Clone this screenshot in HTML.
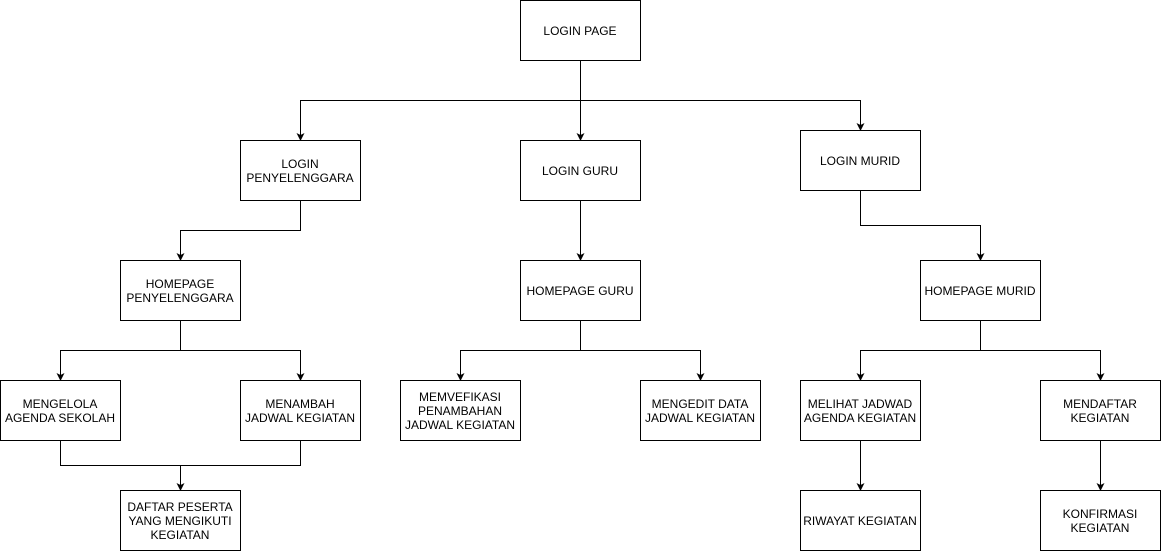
<!DOCTYPE html>
<html><head><meta charset="utf-8"><style>html,body{margin:0;padding:0;background:#fff}</style></head>
<body>
<svg width="1161" height="551" viewBox="0 0 1161 551" xmlns="http://www.w3.org/2000/svg" font-family="Liberation Sans, sans-serif" font-size="12">
<defs><marker id="a" markerWidth="8" markerHeight="8" refX="7" refY="4" orient="auto" markerUnits="userSpaceOnUse"><path d="M0,0 L8,4 L0,8 L2,4 z" fill="#000"/></marker></defs>
<g fill="none" stroke="#000" stroke-width="1">
<path d="M580.5,60 V100.5"/>
<path d="M300.5,140 V100.5 H860.5 V130" marker-end="url(#a)"/>
<path d="M300.5,100.5 V140" marker-end="url(#a)"/>
<path d="M580.5,100 V140" marker-end="url(#a)"/>
<path d="M300.5,200 V230.5 H180.5 V260" marker-end="url(#a)"/>
<path d="M580.5,200 V260" marker-end="url(#a)"/>
<path d="M860.5,190 V225.5 H980.5 V260" marker-end="url(#a)"/>
<path d="M180.5,320 V350.5 H60.5 V380" marker-end="url(#a)"/>
<path d="M180.5,350.5 H300.5 V380" marker-end="url(#a)"/>
<path d="M60.5,440 V465.5 H300.5 V440"/>
<path d="M180.5,465.5 V490" marker-end="url(#a)"/>
<path d="M580.5,320 V350.5 H460.5 V380" marker-end="url(#a)"/>
<path d="M580.5,350.5 H700.5 V380" marker-end="url(#a)"/>
<path d="M980.5,320 V350.5 H860.5 V380" marker-end="url(#a)"/>
<path d="M980.5,350.5 H1100.5 V380" marker-end="url(#a)"/>
<path d="M860.5,440 V490" marker-end="url(#a)"/>
<path d="M1100.5,440 V490" marker-end="url(#a)"/>
</g>
<g fill="#fff" stroke="#000">
<rect x="520.5" y="0.5" width="120" height="60"/>
<rect x="240.5" y="140.5" width="120" height="60"/>
<rect x="520.5" y="140.5" width="120" height="60"/>
<rect x="800.5" y="130.5" width="120" height="60"/>
<rect x="120.5" y="260.5" width="120" height="60"/>
<rect x="520.5" y="260.5" width="120" height="60"/>
<rect x="920.5" y="260.5" width="120" height="60"/>
<rect x="0.5" y="380.5" width="120" height="60"/>
<rect x="240.5" y="380.5" width="120" height="60"/>
<rect x="120.5" y="490.5" width="120" height="60"/>
<rect x="400.5" y="380.5" width="120" height="60"/>
<rect x="640.5" y="380.5" width="120" height="60"/>
<rect x="800.5" y="380.5" width="120" height="60"/>
<rect x="1040.5" y="380.5" width="120" height="60"/>
<rect x="800.5" y="490.5" width="120" height="60"/>
<rect x="1040.5" y="490.5" width="120" height="60"/>
</g>
<g fill="#000" text-anchor="middle">
<text x="580" y="35">LOGIN PAGE</text>
<text x="300" y="168">LOGIN</text><text x="300" y="182">PENYELENGGARA</text>
<text x="580" y="175">LOGIN GURU</text>
<text x="860" y="165">LOGIN MURID</text>
<text x="180" y="288">HOMEPAGE</text><text x="180" y="302">PENYELENGGARA</text>
<text x="580" y="295">HOMEPAGE GURU</text>
<text x="980" y="295">HOMEPAGE MURID</text>
<text x="60" y="408">MENGELOLA</text><text x="60" y="422">AGENDA SEKOLAH</text>
<text x="300" y="408">MENAMBAH</text><text x="300" y="422">JADWAL KEGIATAN</text>
<text x="180" y="511">DAFTAR PESERTA</text><text x="180" y="525">YANG MENGIKUTI</text><text x="180" y="539">KEGIATAN</text>
<text x="460" y="401">MEMVEFIKASI</text><text x="460" y="415">PENAMBAHAN</text><text x="460" y="429">JADWAL KEGIATAN</text>
<text x="700" y="408">MENGEDIT DATA</text><text x="700" y="422">JADWAL KEGIATAN</text>
<text x="860" y="408">MELIHAT JADWAD</text><text x="860" y="422">AGENDA KEGIATAN</text>
<text x="1100" y="408">MENDAFTAR</text><text x="1100" y="422">KEGIATAN</text>
<text x="860" y="525">RIWAYAT KEGIATAN</text>
<text x="1100" y="518">KONFIRMASI</text><text x="1100" y="532">KEGIATAN</text>
</g>
</svg>
</body></html>
